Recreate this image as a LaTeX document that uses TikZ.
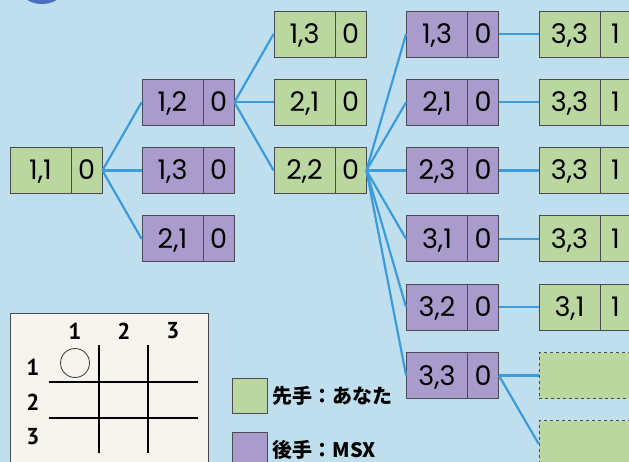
\documentclass[tikz,border=0pt]{standalone}
\usepackage{fontspec}
\usetikzlibrary{positioning}
\setmainfont{Poppins}
\newfontfamily\jpfont{Noto Sans CJK JP}
\newfontfamily\boardfont{PT Sans}
\definecolor{bgblue}{HTML}{BFDFEF}
\definecolor{youfill}{HTML}{B9D79F}
\definecolor{msxfill}{HTML}{A99BCB}
\definecolor{boxline}{HTML}{4A4A52}
\definecolor{linkblue}{HTML}{3C9BDA}
\definecolor{markblue}{HTML}{4A6FC0}
\definecolor{boardfill}{HTML}{F6F4EC}
\newcommand{\cells}[2]{\makebox[61pt]{#1}\makebox[31pt]{#2}}
\tikzset{
  movebox/.style={draw=boxline, line width=0.8pt, minimum width=92pt, minimum height=46pt,
    inner sep=0pt, text height=19pt, text depth=0pt, font=\fontsize{27}{27}\selectfont,
    path picture={\draw[boxline, line width=0.8pt]
      ([xshift=61pt]path picture bounding box.south west) --
      ([xshift=61pt]path picture bounding box.north west);}},
  you/.style={movebox, fill=youfill},
  msx/.style={movebox, fill=msxfill},
  emptybox/.style={draw=boxline, dashed, line width=0.8pt, fill=youfill, minimum width=92pt, minimum height=46pt},
  link/.style={linkblue, line width=2.2pt},
  key/.style={draw=boxline, line width=0.8pt, minimum size=35pt, inner sep=0pt},
  keytext/.style={font=\jpfont\bfseries\fontsize{20}{20}\selectfont, inner sep=0pt},
}
\begin{document}
\begin{tikzpicture}[x=1pt, y=-1pt]
\clip (0,0) rectangle (629,462);
\fill[bgblue] (0,0) rectangle (629,462);
\fill[markblue] (42,-26) circle (30);
% tree of moves
\node[you] (r11) at (56,170.5) {\cells{1,1}{0}};
\node[msx] (a12) at (188,102.3) {\cells{1,2}{0}};
\node[msx] (a13) at (188,170.5) {\cells{1,3}{0}};
\node[msx] (a21) at (188,238.9) {\cells{2,1}{0}};
\node[you] (b13) at (320,34) {\cells{1,3}{0}};
\node[you] (b21) at (320,102.3) {\cells{2,1}{0}};
\node[you] (b22) at (320,170.5) {\cells{2,2}{0}};
\node[msx] (c13) at (452.5,34) {\cells{1,3}{0}};
\node[msx] (c21) at (452.5,102.3) {\cells{2,1}{0}};
\node[msx] (c23) at (452.5,170.5) {\cells{2,3}{0}};
\node[msx] (c31) at (452.5,238.9) {\cells{3,1}{0}};
\node[msx] (c32) at (452.5,307.2) {\cells{3,2}{0}};
\node[msx] (c33) at (452.5,375.5) {\cells{3,3}{0}};
\node[you] (d1) at (585,34) {\cells{3,3}{1}};
\node[you] (d2) at (585,102.3) {\cells{3,3}{1}};
\node[you] (d3) at (585,170.5) {\cells{3,3}{1}};
\node[you] (d4) at (585,238.9) {\cells{3,3}{1}};
\node[you] (d5) at (585,307.2) {\cells{3,1}{1}};
\node[emptybox] (e1) at (585,375.5) {};
\node[emptybox] (e2) at (585,443.8) {};
\foreach \x in {a12,a13,a21} \draw[link] (r11.east) -- (\x.west);
\foreach \x in {b13,b21,b22} \draw[link] (a12.east) -- (\x.west);
\foreach \x in {c13,c21,c23,c31,c32,c33} \draw[link] (b22.east) -- (\x.west);
\foreach \x/\y in {c13/d1,c21/d2,c23/d3,c31/d4,c32/d5,c33/e1} \draw[link] (\x.east) -- (\y.west);
\draw[link] (c33.east) -- (e2.west);
% board
\draw[boxline, fill=boardfill, line width=0.8pt] (10,313) rectangle (208,470);
\begin{scope}[font=\boardfont\bfseries\fontsize{23}{23}\selectfont]
\foreach \n/\x in {1/75,2/124,3/173} \node (col\n) at (\x,331) {\n};
\foreach \n/\y in {1/367,2/402,3/437} \node (row\n) at (33,\y) {\n};
\end{scope}
\draw[black, line width=1.1pt] (99,345) -- (99,453) (148,345) -- (148,453)
  (49,382) -- (198,382) (49,418) -- (198,418);
\draw[boxline, line width=0.9pt] (75,363) circle (14.5);
% legend
\node[key, fill=youfill] (kyou) at (249.5,395.5) {};
\node[key, fill=msxfill] (kmsx) at (249.5,450) {};
\node[keytext, right=5pt of kyou] (tyou) {先手：あなた};
\node[keytext, right=5pt of kmsx] (tmsx) {後手：MSX};
\end{tikzpicture}
\end{document}
